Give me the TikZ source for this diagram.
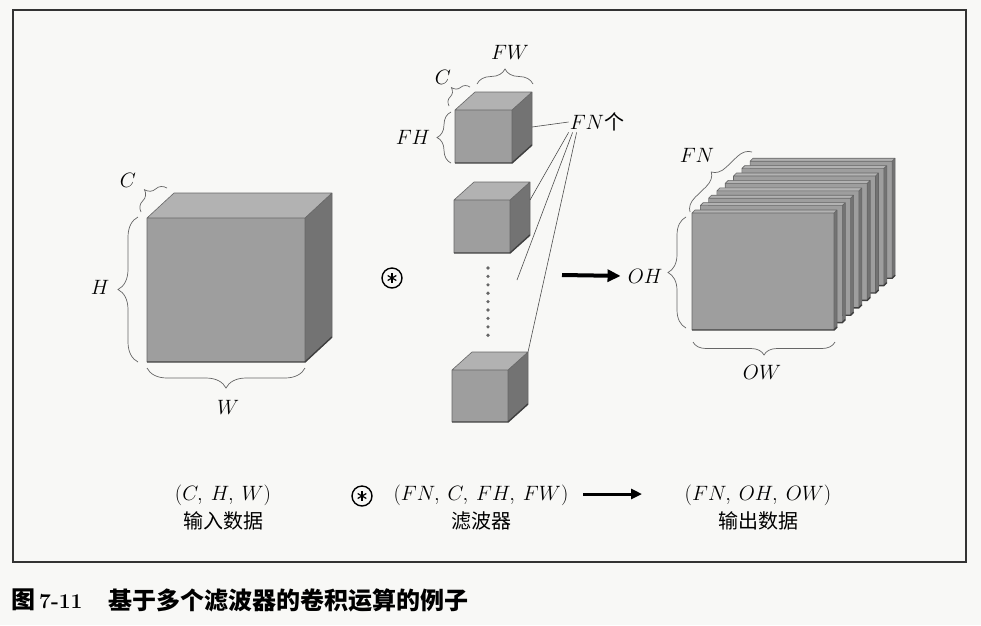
\documentclass[tikz,border=0pt]{standalone}
\usepackage{fontspec}
\newfontfamily\cjk{Noto Sans CJK SC}
\usepackage{tikz}
\usetikzlibrary{arrows.meta,calc,decorations.pathreplacing}

\definecolor{paper}{RGB}{248,248,246}

\newcommand{\cubeat}[7]{%
  \fill[frontface] (#2,#3) rectangle ++(#4,#5);
  \fill[topface] (#2,#3) -- ++(#6,-#7) -- ++(#4,0) -- ++(-#6,#7) -- cycle;
  \fill[sideface] (#2+#4,#3) -- ++(#6,-#7) -- ++(0,#5) -- ++(-#6,#7) -- cycle;
  \draw[cubeedge] (#2,#3+#5) -- (#2,#3) -- ++(#6,-#7) -- ++(#4,0) -- ++(0,#5) -- ++(-#6,#7)
    (#2,#3) -- ++(#4,0) -- ++(#6,-#7) (#2+#4,#3) -- ++(0,#5);
  \draw[cubebase] (#2,#3+#5) -- ++(#4,0) -- ++(#6,-#7);
  \coordinate (#1) at (#2+#4+#6,#3-#7);
}

\tikzset{
  frontface/.style={fill=black!38},
  topface/.style={fill=black!30},
  sideface/.style={fill=black!55},
  cubeedge/.style={draw=black!60, line width=0.6pt, line join=round},
  cubebase/.style={draw=black!75, line width=1.4pt},
  dimbrace/.style={decorate, decoration={brace, amplitude=#1}, draw=black!60, line width=0.7pt},
  dimbrace/.default=14pt,
  lbl/.style={font=\fontsize{20}{24}\selectfont, inner sep=1pt},
  tuple/.style={font=\fontsize{20}{28}\selectfont\cjk, align=center, inner sep=0pt},
  fanline/.style={draw=black!70, line width=0.6pt},
  bigarrow/.style={line width=4pt, -{Triangle[length=13pt, width=12pt]}},
  smallarrow/.style={line width=3pt, -{Triangle[length=11pt, width=10pt]}},
  convop/.style={circle, draw, line width=1.4pt, minimum size=20pt, inner sep=0pt,
    path picture={\foreach \a in {90,30,150}
      \draw[line width=1.2pt] ($(path picture bounding box.center)+(\a:5pt)$)
        -- ($(path picture bounding box.center)+(\a+180:5pt)$);}},
}

\begin{document}
\begin{tikzpicture}[x=1pt, y=-1pt]
    \fill[paper] (0,0) rectangle (981,625);
    \useasboundingbox (0,0) rectangle (981,625);
    \draw[line width=1.3pt, black!80] (13,10) rectangle (966,562);

    \cubeat{big}{147}{218}{158}{144}{27}{25}
    \cubeat{f1}{455}{110}{57}{53}{20}{18}
    \cubeat{f2}{454}{200}{56}{53}{20}{18}
    \cubeat{f3}{452}{370}{56}{52}{20}{18}
    \foreach \i in {7,6,...,0}{
        \pgfmathsetmacro{\sx}{692+8.3*\i}
        \pgfmathsetmacro{\sy}{213-7.4*\i}
        \cubeat{s\i}{\sx}{\sy}{142}{117}{3}{3}
    }
    \foreach \k in {0,...,8}
        \fill[black!60] (488,268+8.4*\k) circle (1.8pt);

    \node[lbl] (lc) at (128,180) {$C$};
    \node[lbl] (lh) at (100,287) {$H$};
    \node[lbl] (lw) at (228,407) {$W$};
    \node[lbl] (lfc) at (443,77) {$C$};
    \node[lbl] (lfw) at (510,52) {$FW$};
    \node[lbl] (lfh) at (413,137) {$FH$};
    \node[lbl] (lfn) at (597,122) {$FN$\cjk 个};
    \node[lbl] (loh) at (645,276) {$OH$};
    \node[lbl] (low) at (762,372) {$OW$};
    \node[lbl] (lon) at (697,155) {$FN$};

    \draw[dimbrace=14pt] (141,212) -- (167,188);
    \draw[dimbrace=20pt] (138,362) -- (138,217);
    \draw[dimbrace=20pt] (305,368) -- (147,368);
    \draw[dimbrace=12pt] (449,106) -- (470,87);
    \draw[dimbrace=15pt] (477,84) -- (533,84);
    \draw[dimbrace=14pt] (451,163) -- (451,112);
    \draw[dimbrace=14pt] (690,212) -- (752,152);
    \draw[dimbrace=18pt] (686,328) -- (686,217);
    \draw[dimbrace=13pt] (835,342) -- (693,342);

    \coordinate (dotsend) at (517,280);
    \draw[fanline] (lfn.west) -- ($(f1)+(0,35)$);
    \draw[fanline] ($(lfn.south west)+(0,0)$) -- ($(f2)+(0,18)$);
    \draw[fanline] ($(lfn.south west)+(4,0)$) -- (dotsend);
    \draw[fanline] ($(lfn.south west)+(8,0)$) -- (f3);

    \node[convop] (op1) at (392,278) {};
    \coordinate (mid0) at (562,275);
    \draw[bigarrow, shorten >=6pt] (mid0) -- (loh.west);

    \node[tuple] (inp) at (223,508) {$(C,\ H,\ W)$\\输入数据};
    \node[convop] (op2) at (362,496) {};
    \node[tuple] (filt) at (481,508) {$(FN,\ C,\ FH,\ FW)$\\滤波器};
    \coordinate (bot0) at (583,494);
    \coordinate (bot1) at (642,494);
    \draw[smallarrow] (bot0) -- (bot1);
    \node[tuple] (outp) at (758,508) {$(FN,\ OH,\ OW)$\\输出数据};

    \node[anchor=west, inner sep=0pt, font=\fontsize{24}{28}\selectfont\cjk\bfseries] (capnum) at (11,600)
        {图\,{\fontsize{21}{24}\selectfont\rmfamily\bfseries 7-11}};
    \node[anchor=west, inner sep=0pt, font=\fontsize{24}{28}\selectfont\cjk\bfseries] (captext) at (108,600)
        {基于多个滤波器的卷积运算的例子};
\end{tikzpicture}
\end{document}
